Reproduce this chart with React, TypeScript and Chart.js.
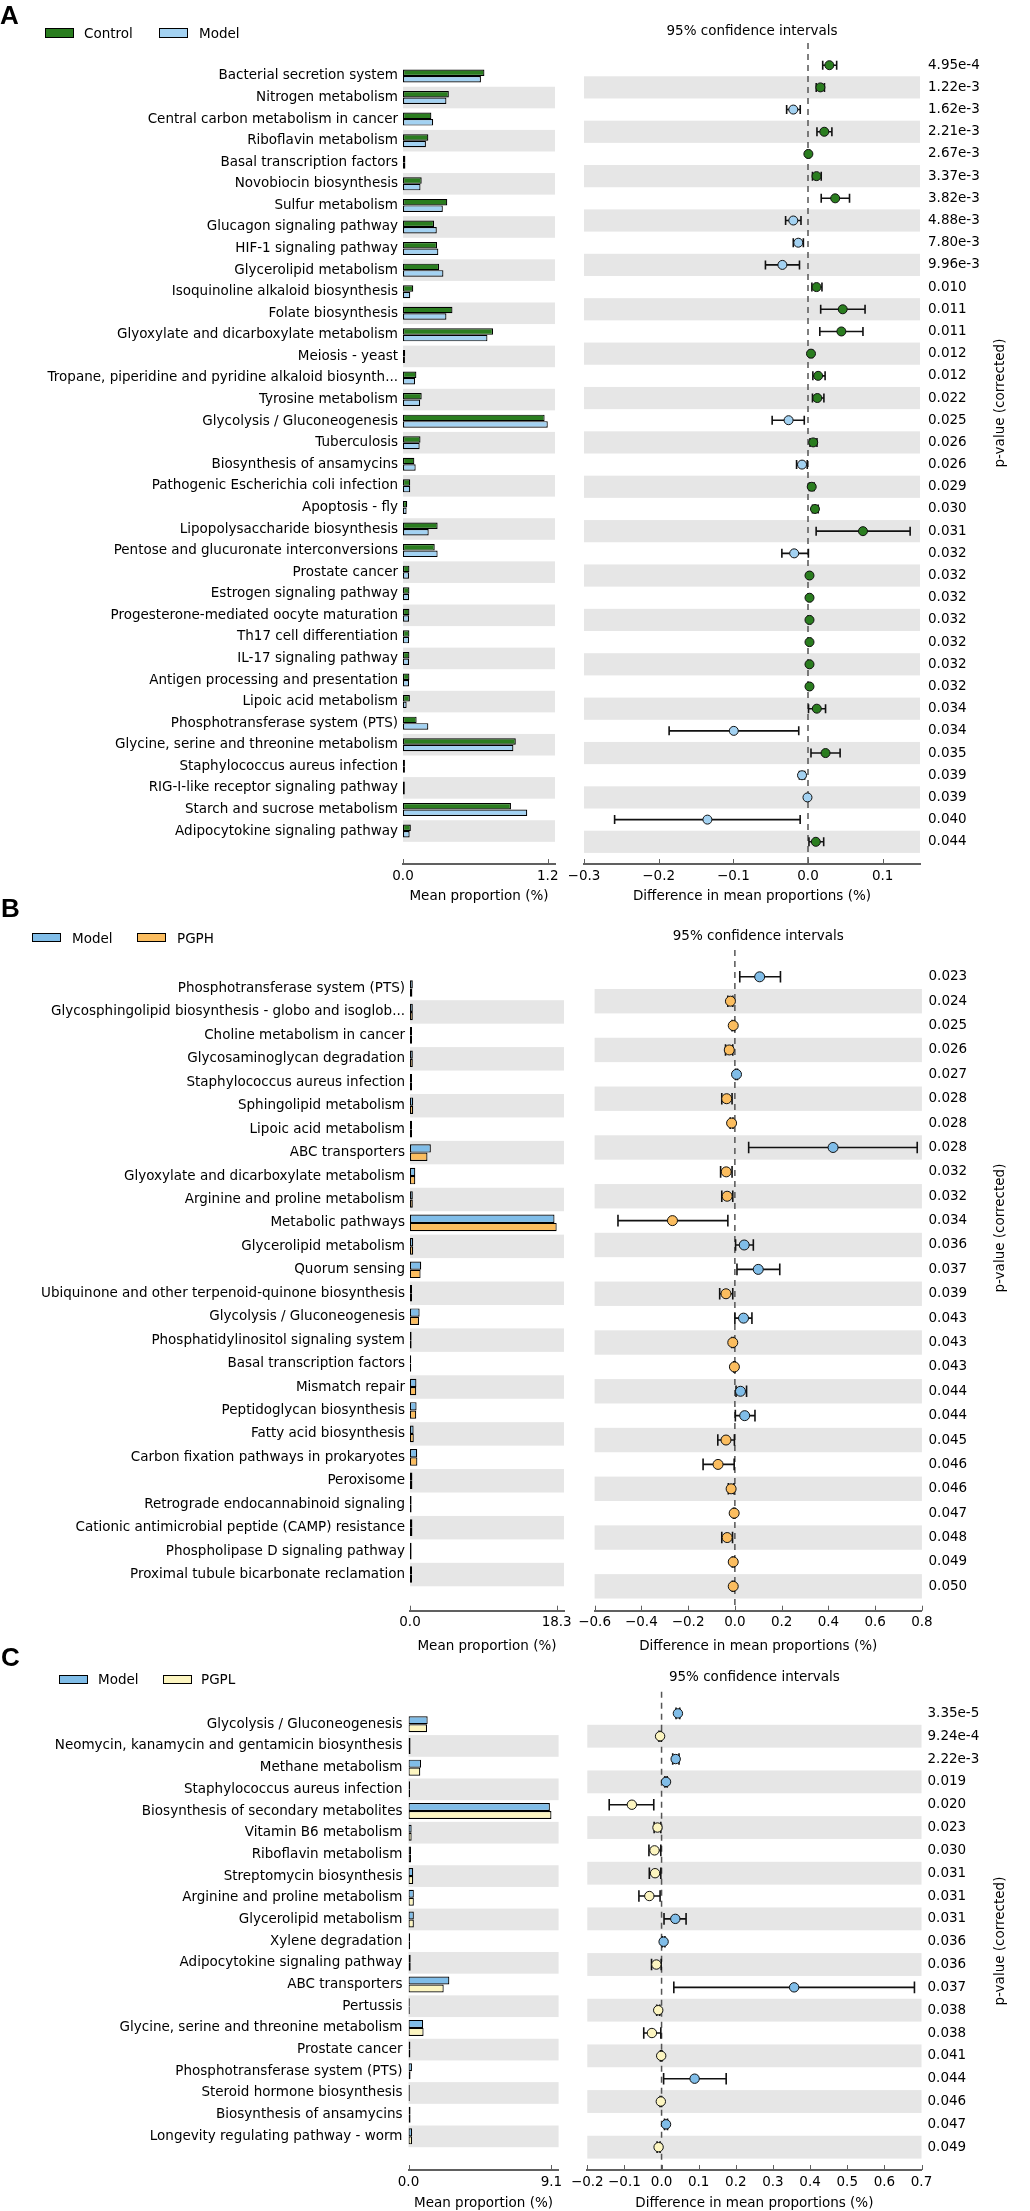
import React, { useEffect, useRef } from 'react';
import { Chart, registerables } from 'chart.js';

Chart.register(...registerables);

if (typeof document !== 'undefined') {
  document.body.style.margin = '0';
  document.body.style.overflow = 'hidden';
}

// ---------------- Panel A : Control vs Model ----------------
const A_groups = ['Control', 'Model'];
const A_pathways = [
  'Bacterial secretion system', 'Nitrogen metabolism', 'Central carbon metabolism in cancer', 'Riboflavin metabolism',
  'Basal transcription factors', 'Novobiocin biosynthesis', 'Sulfur metabolism', 'Glucagon signaling pathway',
  'HIF-1 signaling pathway', 'Glycerolipid metabolism', 'Isoquinoline alkaloid biosynthesis', 'Folate biosynthesis',
  'Glyoxylate and dicarboxylate metabolism', 'Meiosis - yeast', 'Tropane, piperidine and pyridine alkaloid biosynth...',
  'Tyrosine metabolism', 'Glycolysis / Gluconeogenesis', 'Tuberculosis', 'Biosynthesis of ansamycins',
  'Pathogenic Escherichia coli infection', 'Apoptosis - fly', 'Lipopolysaccharide biosynthesis',
  'Pentose and glucuronate interconversions', 'Prostate cancer', 'Estrogen signaling pathway',
  'Progesterone-mediated oocyte maturation', 'Th17 cell differentiation', 'IL-17 signaling pathway',
  'Antigen processing and presentation', 'Lipoic acid metabolism', 'Phosphotransferase system (PTS)',
  'Glycine, serine and threonine metabolism', 'Staphylococcus aureus infection', 'RIG-I-like receptor signaling pathway',
  'Starch and sucrose metabolism', 'Adipocytokine signaling pathway',
];
const A_control = [0.675, 0.38, 0.235, 0.21, 0.02, 0.155, 0.367, 0.257, 0.282, 0.299, 0.085, 0.41, 0.746, 0.018, 0.111, 0.155, 1.174, 0.145, 0.094, 0.06, 0.035, 0.287, 0.263, 0.053, 0.053, 0.053, 0.053, 0.053, 0.053, 0.057, 0.113, 0.935, 0.016, 0.015, 0.895, 0.065];
const A_model = [0.646, 0.36, 0.25, 0.19, 0.02, 0.145, 0.33, 0.28, 0.293, 0.335, 0.06, 0.36, 0.7, 0.016, 0.1, 0.142, 1.2, 0.138, 0.105, 0.06, 0.03, 0.213, 0.287, 0.05, 0.05, 0.05, 0.05, 0.05, 0.05, 0.03, 0.21, 0.915, 0.016, 0.015, 1.03, 0.055];
const A_diff = [0.0286, 0.0166, -0.0197, 0.0218, 0.0005, 0.0114, 0.0364, -0.0197, -0.013, -0.0343, 0.0114, 0.0465, 0.0447, 0.004, 0.0136, 0.0125, -0.026, 0.007, -0.008, 0.005, 0.0093, 0.0736, -0.0185, 0.002, 0.002, 0.002, 0.002, 0.002, 0.002, 0.0118, -0.0994, 0.0235, -0.008, -0.0007, -0.1347, 0.0105];
const A_ciLow = [0.0197, 0.011, -0.0286, 0.012, -0.001, 0.006, 0.0177, -0.03, -0.0197, -0.057, 0.0052, 0.017, 0.0158, 0.002, 0.0065, 0.006, -0.048, 0.0027, -0.0153, 0.0017, 0.006, 0.0109, -0.035, 0.0005, 0.0005, 0.0005, 0.0005, 0.0005, 0.0005, 0.0007, -0.186, 0.004, -0.0115, -0.002, -0.259, 0.0013];
const A_ciHigh = [0.0384, 0.022, -0.0104, 0.032, 0.002, 0.0177, 0.0556, -0.0094, -0.0062, -0.0114, 0.0187, 0.0764, 0.0736, 0.006, 0.0229, 0.0213, -0.005, 0.012, -0.001, 0.0083, 0.0136, 0.1368, 0.0005, 0.0035, 0.0035, 0.0035, 0.0035, 0.0035, 0.0035, 0.0235, -0.0124, 0.043, -0.0045, 0.0006, -0.0105, 0.021];
const A_pvalues = ['4.95e-4', '1.22e-3', '1.62e-3', '2.21e-3', '2.67e-3', '3.37e-3', '3.82e-3', '4.88e-3', '7.80e-3', '9.96e-3', '0.010', '0.011', '0.011', '0.012', '0.012', '0.022', '0.025', '0.026', '0.026', '0.029', '0.030', '0.031', '0.032', '0.032', '0.032', '0.032', '0.032', '0.032', '0.032', '0.034', '0.034', '0.035', '0.039', '0.039', '0.040', '0.044'];
const A_barTicks = [0, 1.2];
const A_diffTicks = [-0.3, -0.2, -0.1, 0.0, 0.1];

// ---------------- Panel B : Model vs PGPH ----------------
const B_groups = ['Model', 'PGPH'];
const B_pathways = [
  'Phosphotransferase system (PTS)', 'Glycosphingolipid biosynthesis - globo and isoglob...', 'Choline metabolism in cancer',
  'Glycosaminoglycan degradation', 'Staphylococcus aureus infection', 'Sphingolipid metabolism', 'Lipoic acid metabolism',
  'ABC transporters', 'Glyoxylate and dicarboxylate metabolism', 'Arginine and proline metabolism', 'Metabolic pathways',
  'Glycerolipid metabolism', 'Quorum sensing', 'Ubiquinone and other terpenoid-quinone biosynthesis',
  'Glycolysis / Gluconeogenesis', 'Phosphatidylinositol signaling system', 'Basal transcription factors', 'Mismatch repair',
  'Peptidoglycan biosynthesis', 'Fatty acid biosynthesis', 'Carbon fixation pathways in prokaryotes', 'Peroxisome',
  'Retrograde endocannabinoid signaling', 'Cationic antimicrobial peptide (CAMP) resistance',
  'Phospholipase D signaling pathway', 'Proximal tubule bicarbonate reclamation',
];
const B_model = [0.35, 0.35, 0.25, 0.35, 0.25, 0.4, 0.25, 2.6, 0.66, 0.35, 18.03, 0.4, 1.4, 0.25, 1.2, 0.2, 0.15, 0.8, 0.82, 0.45, 0.9, 0.3, 0.2, 0.3, 0.2, 0.25];
const B_pgph = [0.3, 0.35, 0.25, 0.35, 0.25, 0.4, 0.25, 2.18, 0.66, 0.35, 18.3, 0.4, 1.32, 0.25, 1.12, 0.2, 0.15, 0.78, 0.78, 0.47, 0.92, 0.3, 0.2, 0.3, 0.2, 0.25];
const B_diff = [0.106, -0.019, -0.007, -0.024, 0.007, -0.035, -0.014, 0.42, -0.037, -0.033, -0.267, 0.04, 0.1, -0.038, 0.037, -0.009, -0.002, 0.024, 0.042, -0.038, -0.072, -0.016, -0.003, -0.033, -0.007, -0.007];
const B_ciLow = [0.021, -0.03, -0.012, -0.04, 0.003, -0.056, -0.02, 0.059, -0.061, -0.056, -0.5, 0.003, 0.009, -0.065, 0.0, -0.013, -0.005, 0.005, 0.002, -0.073, -0.136, -0.028, -0.006, -0.056, -0.011, -0.011];
const B_ciHigh = [0.195, -0.009, -0.002, -0.009, 0.011, -0.012, -0.008, 0.78, -0.012, -0.009, -0.03, 0.079, 0.192, -0.009, 0.073, -0.005, 0.001, 0.05, 0.086, -0.002, -0.003, -0.004, 0.0, -0.01, -0.003, -0.003];
const B_pvalues = ['0.023', '0.024', '0.025', '0.026', '0.027', '0.028', '0.028', '0.028', '0.032', '0.032', '0.034', '0.036', '0.037', '0.039', '0.043', '0.043', '0.043', '0.044', '0.044', '0.045', '0.046', '0.046', '0.047', '0.048', '0.049', '0.050'];
const B_barTicks = [0, 18.3];
const B_diffTicks = [-0.6, -0.4, -0.2, 0.0, 0.2, 0.4, 0.6, 0.8];

// ---------------- Panel C : Model vs PGPL ----------------
const C_groups = ['Model', 'PGPL'];
const C_pathways = [
  'Glycolysis / Gluconeogenesis', 'Neomycin, kanamycin and gentamicin biosynthesis', 'Methane metabolism',
  'Staphylococcus aureus infection', 'Biosynthesis of secondary metabolites', 'Vitamin B6 metabolism',
  'Riboflavin metabolism', 'Streptomycin biosynthesis', 'Arginine and proline metabolism', 'Glycerolipid metabolism',
  'Xylene degradation', 'Adipocytokine signaling pathway', 'ABC transporters', 'Pertussis',
  'Glycine, serine and threonine metabolism', 'Prostate cancer', 'Phosphotransferase system (PTS)',
  'Steroid hormone biosynthesis', 'Biosynthesis of ansamycins', 'Longevity regulating pathway - worm',
];
const C_model = [1.22, 0.13, 0.8, 0.1, 9.0, 0.2, 0.16, 0.3, 0.34, 0.34, 0.1, 0.14, 2.6, 0.08, 0.93, 0.12, 0.22, 0.08, 0.13, 0.23];
const C_pgpl = [1.18, 0.13, 0.75, 0.1, 9.1, 0.2, 0.16, 0.3, 0.34, 0.34, 0.1, 0.14, 2.24, 0.08, 0.96, 0.12, 0.13, 0.08, 0.13, 0.23];
const C_diff = [0.044, -0.004, 0.038, 0.012, -0.08, -0.011, -0.019, -0.0175, -0.033, 0.037, 0.0055, -0.014, 0.357, -0.009, -0.026, -0.001, 0.089, -0.002, 0.012, -0.008];
const C_ciLow = [0.039, -0.007, 0.03, 0.009, -0.141, -0.02, -0.034, -0.033, -0.061, 0.0066, 0.002, -0.027, 0.033, -0.013, -0.048, -0.003, 0.0055, -0.004, 0.008, -0.012];
const C_ciHigh = [0.049, -0.001, 0.047, 0.015, -0.021, -0.002, -0.002, -0.002, -0.004, 0.066, 0.009, -0.001, 0.681, -0.005, -0.002, 0.001, 0.174, 0.0, 0.016, -0.004];
const C_pvalues = ['3.35e-5', '9.24e-4', '2.22e-3', '0.019', '0.020', '0.023', '0.030', '0.031', '0.031', '0.031', '0.036', '0.036', '0.037', '0.038', '0.038', '0.041', '0.044', '0.046', '0.047', '0.049'];
const C_barTicks = [0, 9.1];
const C_diffTicks = [-0.2, -0.1, 0.0, 0.1, 0.2, 0.3, 0.4, 0.5, 0.6, 0.7];

// ---------------- styling ----------------
const FAMILY = "'DejaVu Sans', 'Bitstream Vera Sans', sans-serif";
const FS = 13.5;
const LH = FS * 1.2;
const BAND = '#e6e6e6';
const AXIS = '#606060';
const GREEN = '#2a7d1f';
const BLUE_A = '#a3d2f2';
const BLUE = '#80bde8';
const ORANGE = '#fbbd5f';
const YELLOW = '#fcf5c0';

type PanelData = {
  groups: string[]; names: string[]; g1: number[]; g2: number[]; diff: number[]; lo: number[]; hi: number[];
  pvals: string[]; barTicks: number[]; diffTicks: number[]; c1: string; c2: string;
};
type Lay = {
  letter: string; letterTop: number; letterLeft: number;
  legendPatchX: number[]; legendTextX: number[]; legendPatchTop: number; legendPatchH: number; legendTextTop: number;
  top: number; chartTop: number; chartBottom: number; yMin: number; yMax: number;
  barLeft: number; barRight: number; barMax: number; labelPad: number;
  ciLeft: number; ciRight: number; ciMin: number; ciMax: number;
  titleY: number; axisTitleY: number; pLabelY: number; pX: number;
  barT: number; dotR: number; capHalf: number;
};

const panelA: PanelData = { groups: A_groups, names: A_pathways, g1: A_control, g2: A_model, diff: A_diff, lo: A_ciLow, hi: A_ciHigh, pvals: A_pvalues, barTicks: A_barTicks, diffTicks: A_diffTicks, c1: GREEN, c2: BLUE_A };
const panelB: PanelData = { groups: B_groups, names: B_pathways, g1: B_model, g2: B_pgph, diff: B_diff, lo: B_ciLow, hi: B_ciHigh, pvals: B_pvalues, barTicks: B_barTicks, diffTicks: B_diffTicks, c1: BLUE, c2: ORANGE };
const panelC: PanelData = { groups: C_groups, names: C_pathways, g1: C_model, g2: C_pgpl, diff: C_diff, lo: C_ciLow, hi: C_ciHigh, pvals: C_pvalues, barTicks: C_barTicks, diffTicks: C_diffTicks, c1: BLUE, c2: YELLOW };

const layA: Lay = {
  letter: 'A', letterTop: 1.6, letterLeft: 0,
  legendPatchX: [45, 159], legendTextX: [84, 199], legendPatchTop: 28.3, legendPatchH: 9.4, legendTextTop: 24.7,
  top: 0, chartTop: 43, chartBottom: 864, yMin: -1, yMax: 36,
  barLeft: 403, barRight: 555, barMax: 1.26, labelPad: 5,
  ciLeft: 584, ciRight: 920, ciMin: -0.3, ciMax: 0.15,
  titleY: 31, axisTitleY: 896, pLabelY: 403, pX: 928,
  barT: 6.5, dotR: 4.5, capHalf: 4.5,
};
const layB: Lay = {
  letter: 'B', letterTop: 895, letterLeft: 1,
  legendPatchX: [32, 137], legendTextX: [72, 177], legendPatchTop: 933.3, legendPatchH: 9, legendTextTop: 930.2,
  top: 905, chartTop: 950, chartBottom: 1610.7, yMin: -1.1, yMax: 26,
  barLeft: 410, barRight: 564, barMax: 19.215, labelPad: 5,
  ciLeft: 594.6, ciRight: 921.9, ciMin: -0.6, ciMax: 0.8,
  titleY: 936, axisTitleY: 1646, pLabelY: 1228, pX: 928.5,
  barT: 8.3, dotR: 5, capHalf: 5.8,
};
const layC: Lay = {
  letter: 'C', letterTop: 1643.5, letterLeft: 1,
  legendPatchX: [59, 163], legendTextX: [98, 201], legendPatchTop: 1675, legendPatchH: 8.5, legendTextTop: 1670.5,
  top: 1655, chartTop: 1691.7, chartBottom: 2170, yMin: -0.95, yMax: 20,
  barLeft: 408.5, barRight: 558.6, barMax: 9.555, labelPad: 6,
  ciLeft: 587.3, ciRight: 921.5, ciMin: -0.2, ciMax: 0.7,
  titleY: 1677, axisTitleY: 2203.3, pLabelY: 1941, pX: 927.5,
  barT: 8, dotR: 4.7, capHalf: 5.8,
};

const font = { family: FAMILY, size: FS, weight: 'normal' as const };
const fmtMinus = (v: number) => (v < -1e-9 ? '\u2212' + Math.abs(v).toFixed(1) : Math.abs(v).toFixed(1));

function bandsPlugin(n: number) {
  return {
    id: 'bands',
    beforeDatasetsDraw(chart: any) {
      const { ctx, chartArea } = chart;
      const ys = chart.scales.y;
      ctx.save();
      ctx.fillStyle = BAND;
      for (let i = 1; i < n; i += 2) {
        const a = ys.getPixelForValue(i - 0.5);
        const b = ys.getPixelForValue(i + 0.5);
        ctx.fillRect(chartArea.left, Math.min(a, b), chartArea.right - chartArea.left, Math.abs(b - a));
      }
      ctx.restore();
    },
  };
}

const innerTicksPlugin = {
  id: 'innerTicks',
  afterDraw(chart: any) {
    const { ctx, chartArea } = chart;
    const xs = chart.scales.x;
    ctx.save();
    ctx.strokeStyle = AXIS;
    ctx.lineWidth = 1;
    for (const t of xs.ticks) {
      const px = Math.round(xs.getPixelForValue(t.value)) + 0.5;
      ctx.beginPath();
      ctx.moveTo(px, chartArea.bottom);
      ctx.lineTo(px, chartArea.bottom - 5);
      ctx.stroke();
    }
    ctx.restore();
  },
};

function ciPlugin(d: PanelData, L: Lay, canvasLeft: number) {
  return {
    id: 'ci',
    beforeDatasetsDraw(chart: any) {
      const { ctx, chartArea } = chart;
      const xs = chart.scales.x;
      const ys = chart.scales.y;
      const x0 = xs.getPixelForValue(0);
      ctx.save();
      ctx.strokeStyle = '#555';
      ctx.lineWidth = 1.5;
      ctx.setLineDash([6, 5]);
      ctx.beginPath();
      ctx.moveTo(x0, chartArea.top);
      ctx.lineTo(x0, chartArea.bottom);
      ctx.stroke();
      ctx.setLineDash([]);
      ctx.strokeStyle = '#111';
      ctx.lineWidth = 1.6;
      for (let i = 0; i < d.diff.length; i++) {
        const y = ys.getPixelForValue(i);
        const xl = xs.getPixelForValue(d.lo[i]);
        const xh = xs.getPixelForValue(d.hi[i]);
        ctx.beginPath();
        ctx.moveTo(xl, y);
        ctx.lineTo(xh, y);
        ctx.moveTo(xl, y - L.capHalf);
        ctx.lineTo(xl, y + L.capHalf);
        ctx.moveTo(xh, y - L.capHalf);
        ctx.lineTo(xh, y + L.capHalf);
        ctx.stroke();
      }
      ctx.restore();
    },
    afterDraw(chart: any) {
      const ctx = chart.ctx;
      ctx.save();
      ctx.translate(1000 - canvasLeft, L.pLabelY - L.top);
      ctx.rotate(-Math.PI / 2);
      ctx.font = `${FS}px ${FAMILY}`;
      ctx.fillStyle = '#000';
      ctx.textAlign = 'center';
      ctx.textBaseline = 'middle';
      ctx.fillText('p-value (corrected)', 0, 0);
      ctx.restore();
    },
  };
}

function Panel({ d, L }: { d: PanelData; L: Lay }) {
  const barRef = useRef<HTMLCanvasElement>(null);
  const ciRef = useRef<HTMLCanvasElement>(null);
  const height = Math.ceil(L.chartBottom + 50 - L.top);
  const barW = Math.ceil(L.barRight + 28);
  const ciCanvasLeft = Math.floor(L.ciLeft - 30);
  const ciW = 1030 - ciCanvasLeft;

  useEffect(() => {
    const axisH = height - (L.chartBottom - L.top);
    const axisTitlePadBottom = L.top + height - L.axisTitleY - LH / 2;
    const n = d.names.length;

    const barChart = new Chart(barRef.current as HTMLCanvasElement, {
      type: 'bar',
      data: {
        datasets: [
          { label: d.groups[0], data: d.g1.map((v, i) => ({ x: v, y: i })) as any, backgroundColor: d.c1, borderColor: '#000', borderWidth: 1.2, borderSkipped: false, barThickness: L.barT, inflateAmount: 0 },
          { label: d.groups[1], data: d.g2.map((v, i) => ({ x: v, y: i })) as any, backgroundColor: d.c2, borderColor: '#000', borderWidth: 1.2, borderSkipped: false, barThickness: L.barT, inflateAmount: 0 },
        ],
      },
      options: {
        indexAxis: 'y',
        responsive: false,
        maintainAspectRatio: false,
        animation: false,
        events: [],
        layout: { padding: { top: L.chartTop - L.top, right: barW - L.barRight, left: 0, bottom: 0 } },
        plugins: { legend: { display: false }, tooltip: { enabled: false }, title: { display: false } },
        scales: {
          x: {
            type: 'linear', min: 0, max: L.barMax,
            grid: { display: false, drawTicks: false },
            border: { display: true, color: AXIS, width: 2 },
            afterBuildTicks: (s: any) => { s.ticks = d.barTicks.map((v) => ({ value: v })); },
            afterFit: (s: any) => { s.height = axisH; },
            ticks: { autoSkip: false, maxRotation: 0, padding: 4, font, color: '#000', callback: (v: any) => Number(v).toFixed(1) },
            title: { display: true, text: 'Mean proportion (%)', font, color: '#000', padding: { top: 0, bottom: axisTitlePadBottom } },
          },
          y: {
            type: 'linear', reverse: true, min: L.yMin, max: L.yMax,
            grid: { display: false, drawTicks: false },
            border: { display: false },
            afterBuildTicks: (s: any) => { s.ticks = d.names.map((_, i) => ({ value: i })); },
            afterFit: (s: any) => { s.width = L.barLeft; },
            ticks: { autoSkip: false, padding: L.labelPad, font, color: '#000', callback: (v: any) => d.names[Math.round(Number(v))] },
          },
        },
      } as any,
      plugins: [bandsPlugin(n), innerTicksPlugin],
    });

    const ciChart = new Chart(ciRef.current as HTMLCanvasElement, {
      type: 'scatter',
      data: {
        datasets: [{
          data: d.diff.map((v, i) => ({ x: v, y: i })),
          pointRadius: L.dotR,
          pointHoverRadius: L.dotR,
          pointBackgroundColor: d.diff.map((v) => (v > 0 ? d.c1 : d.c2)),
          pointBorderColor: '#111',
          pointBorderWidth: 1,
          clip: false as any,
        }],
      },
      options: {
        responsive: false,
        maintainAspectRatio: false,
        animation: false,
        events: [],
        layout: { padding: { top: 0, right: 0, left: L.ciLeft - ciCanvasLeft, bottom: 0 } },
        plugins: {
          legend: { display: false },
          tooltip: { enabled: false },
          title: {
            display: true, text: '95% confidence intervals', fullSize: false, align: 'center', font, color: '#000',
            padding: { top: L.titleY - L.top - LH / 2, bottom: L.chartTop - L.titleY - LH / 2 },
          },
        },
        scales: {
          x: {
            type: 'linear', min: L.ciMin, max: L.ciMax,
            grid: { display: false, drawTicks: false },
            border: { display: true, color: AXIS, width: 2 },
            afterBuildTicks: (s: any) => { s.ticks = d.diffTicks.map((v) => ({ value: v })); },
            afterFit: (s: any) => { s.height = axisH; },
            ticks: { autoSkip: false, maxRotation: 0, padding: 4, font, color: '#000', callback: (v: any) => fmtMinus(Number(v)) },
            title: { display: true, text: 'Difference in mean proportions (%)', font, color: '#000', padding: { top: 0, bottom: axisTitlePadBottom } },
          },
          y: { type: 'linear', display: false, reverse: true, min: L.yMin, max: L.yMax },
          p: {
            type: 'linear', axis: 'y', position: 'right', reverse: true, min: L.yMin, max: L.yMax,
            grid: { display: false, drawTicks: false },
            border: { display: false },
            afterBuildTicks: (s: any) => { s.ticks = d.pvals.map((_, i) => ({ value: i })); },
            afterFit: (s: any) => { s.width = 1030 - L.ciRight; },
            ticks: { autoSkip: false, padding: L.pX - L.ciRight, font, color: '#000', callback: (v: any) => d.pvals[Math.round(Number(v))] },
          },
        },
      } as any,
      plugins: [bandsPlugin(n), ciPlugin(d, L, ciCanvasLeft), innerTicksPlugin],
    });

    return () => {
      barChart.destroy();
      ciChart.destroy();
    };
  }, []);

  const textStyle: React.CSSProperties = { position: 'absolute', fontFamily: FAMILY, fontSize: FS, lineHeight: '16px', color: '#000', whiteSpace: 'nowrap' };
  return (
    <>
      <canvas ref={barRef} width={barW} height={height} style={{ position: 'absolute', left: 0, top: L.top, width: barW, height }} />
      <canvas ref={ciRef} width={ciW} height={height} style={{ position: 'absolute', left: ciCanvasLeft, top: L.top, width: ciW, height }} />
      <div style={{ position: 'absolute', left: L.letterLeft, top: L.letterTop, fontFamily: "'Liberation Sans', Arial, sans-serif", fontWeight: 'bold', fontSize: 26, lineHeight: '26px', color: '#000' }}>{L.letter}</div>
      {d.groups.map((g, k) => (
        <React.Fragment key={g}>
          <div style={{ position: 'absolute', left: L.legendPatchX[k], top: L.legendPatchTop, width: 29, height: L.legendPatchH, boxSizing: 'border-box', border: '1.5px solid #000', background: k === 0 ? d.c1 : d.c2 }} />
          <div style={{ ...textStyle, left: L.legendTextX[k], top: L.legendTextTop }}>{g}</div>
        </React.Fragment>
      ))}
    </>
  );
}

export default function App() {
  return (
    <div style={{ position: 'relative', width: 1030, height: 2211, overflow: 'hidden', background: '#fff' }}>
      <Panel d={panelA} L={layA} />
      <Panel d={panelB} L={layB} />
      <Panel d={panelC} L={layC} />
    </div>
  );
}
